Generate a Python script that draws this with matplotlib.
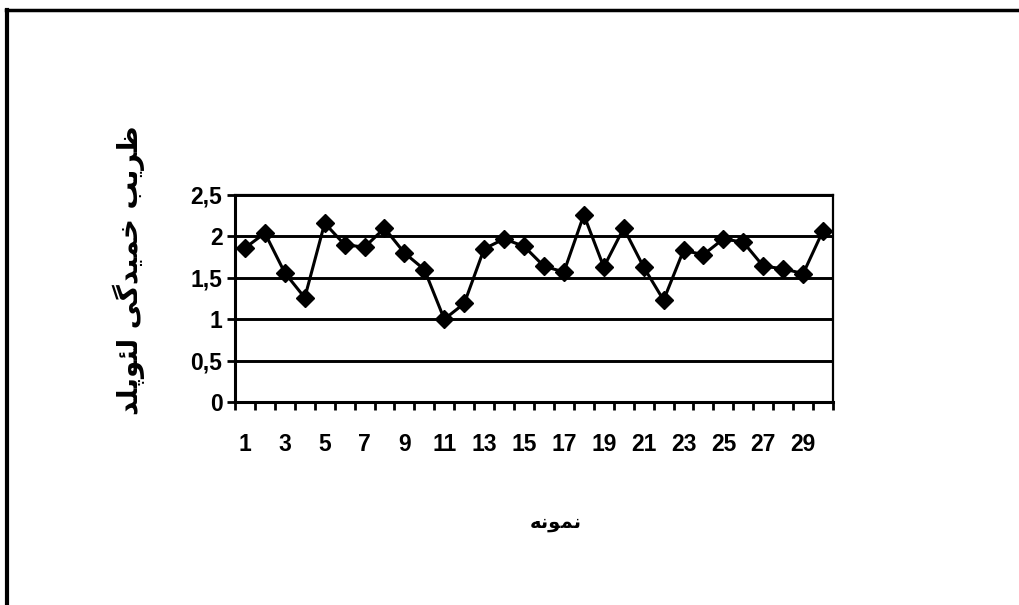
import numpy as np
import matplotlib.pyplot as plt
from matplotlib.lines import Line2D

# sample number vs. Leopold curvature coefficient
samples = list(range(1, 31))
curvature = [1.86, 2.04, 1.56, 1.26, 2.16, 1.90, 1.87, 2.10, 1.80, 1.60,
             1.00, 1.19, 1.85, 1.97, 1.88, 1.64, 1.57, 2.26, 1.63, 2.10,
             1.63, 1.23, 1.83, 1.78, 1.97, 1.93, 1.64, 1.61, 1.55, 2.07]
y_ticks = [0, 0.5, 1, 1.5, 2, 2.5]
y_tick_labels = ['0', '0,5', '1', '1,5', '2', '2,5']
x_tick_labels = [str(s) if s % 2 == 1 else '' for s in samples]
y_title = 'ضریب خمیدگی لئوپلد'
x_title = 'نمونه'

# minimal Persian shaping: (isolated, final, initial, medial); None = no left join
FORMS = {
    'ض': (0xFEC5, 0xFEC6, 0xFEC7, 0xFEC8),
    'ر': (0xFEAD, 0xFEAE, None, None),
    'ی': (0xFBFC, 0xFBFD, 0xFBFE, 0xFBFF),
    'ب': (0xFE8F, 0xFE90, 0xFE91, 0xFE92),
    'خ': (0xFEA5, 0xFEA6, 0xFEA7, 0xFEA8),
    'م': (0xFEE1, 0xFEE2, 0xFEE3, 0xFEE4),
    'د': (0xFEA9, 0xFEAA, None, None),
    'گ': (0xFB92, 0xFB93, 0xFB94, 0xFB95),
    'ل': (0xFEDD, 0xFEDE, 0xFEDF, 0xFEE0),
    'ئ': (0xFE89, 0xFE8A, 0xFE8B, 0xFE8C),
    'و': (0xFEED, 0xFEEE, None, None),
    'پ': (0xFB56, 0xFB57, 0xFB58, 0xFB59),
    'ن': (0xFEE5, 0xFEE6, 0xFEE7, 0xFEE8),
    'ه': (0xFEE9, 0xFEEA, 0xFEEB, 0xFEEC),
}


def shape(text):
    out = []
    for i, ch in enumerate(text):
        if ch not in FORMS:
            out.append(ch)
            continue
        prev = text[i - 1] if i > 0 else ''
        nxt = text[i + 1] if i + 1 < len(text) else ''
        join_prev = prev in FORMS and FORMS[prev][2] is not None
        join_next = nxt in FORMS and FORMS[ch][2] is not None
        iso, fin, ini, med = FORMS[ch]
        if join_prev and join_next:
            code = med
        elif join_prev:
            code = fin
        elif join_next:
            code = ini
        else:
            code = iso
        out.append(chr(code))
    return ''.join(reversed(out))


plt.rcParams['font.family'] = ['Liberation Sans', 'DejaVu Sans']

fig = plt.figure(figsize=(10.19, 6.05), dpi=100)
ax = fig.add_axes([0.2306, 0.3355, 0.5869, 0.3422])

ax.plot(samples, curvature, color='black', lw=2.2, marker='D',
        markersize=9.5, markerfacecolor='black', markeredgecolor='black', zorder=3)

ax.set_xlim(0.5, 30.5)
ax.set_ylim(0, 2.5)
ax.set_yticks(y_ticks)
ax.set_yticklabels(y_tick_labels, fontsize=16.5, fontweight='bold')
ax.set_xticks(samples)
ax.set_xticklabels(x_tick_labels, fontsize=16.5, fontweight='bold')
ax.tick_params(axis='x', length=0, pad=22)
ax.tick_params(axis='y', length=6, width=2, pad=3)

# category-boundary tick marks under the x axis
ax.set_xticks(np.arange(0.5, 31, 1), minor=True)
ax.tick_params(axis='x', which='minor', length=6, width=2, direction='out')

for v in y_ticks[1:]:
    ax.axhline(v, color='black', lw=2.1, zorder=1)
for s in ax.spines.values():
    s.set_linewidth(1.6)
ax.spines['left'].set_linewidth(2.2)
ax.spines['bottom'].set_linewidth(2.2)

fig.text(0.126, 0.553, shape(y_title), rotation=90, ha='center', va='center',
         fontsize=20, fontweight='bold', family='DejaVu Sans')
fig.text(0.545, 0.137, shape(x_title), ha='center', va='center',
         fontsize=14, fontweight='bold', family='DejaVu Sans')

# outer frame, open on the right and bottom
fig.add_artist(Line2D([0.006, 1.0], [0.983, 0.983], color='black', lw=2.5,
                      transform=fig.transFigure))
fig.add_artist(Line2D([0.007, 0.007], [0.0, 0.984], color='black', lw=3,
                      transform=fig.transFigure))

fig.savefig('out.png', dpi=100)
